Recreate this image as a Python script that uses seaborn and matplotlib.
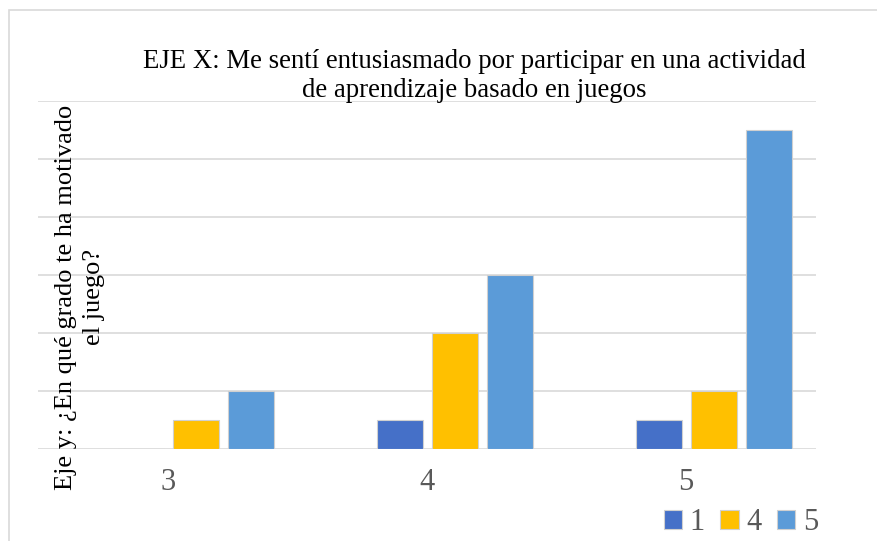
import pandas as pd
import matplotlib.pyplot as plt
import seaborn as sns
from matplotlib.patches import Rectangle

# datos
categorias = ["3", "4", "5"]
serie_1 = [0, 1, 1]
serie_4 = [1, 4, 2]
serie_5 = [2, 6, 11]
series = ["1", "4", "5"]
colores = ["#4570c8", "#ffc000", "#5b9bd8"]

df = pd.DataFrame({
    "categoria": categorias * 3,
    "serie": ["1"] * 3 + ["4"] * 3 + ["5"] * 3,
    "valor": serie_1 + serie_4 + serie_5,
})

sns.set_style("white")
plt.rcParams["font.family"] = ["Liberation Serif", "DejaVu Serif"]

fig = plt.figure(figsize=(8.78, 5.41), dpi=100)
ax = fig.add_axes([38 / 878, 1 - 449 / 541, (816 - 38) / 878, (449 - 101) / 541])

sns.barplot(data=df, x="categoria", y="valor", hue="serie", order=categorias,
            hue_order=series, palette=colores, saturation=1, width=0.64, gap=0.17,
            linewidth=0.8, edgecolor="#d0d0d0", ax=ax, zorder=3)

ax.set_ylim(0, 12)
ax.set_yticks(range(0, 13, 2))
ax.set_yticklabels([])
ax.tick_params(axis="y", length=0)
ax.yaxis.grid(True, color="#d9d9d9", linewidth=1.2)
ax.set_axisbelow(True)
ax.set_xlim(-0.61, 2.394)
ax.set_xticks([-0.108, 0.892, 1.892])
ax.set_xticklabels(categorias, fontsize=22, color="#595959")
ax.tick_params(axis="x", length=0, pad=14)
ax.set_xlabel("")
ax.set_ylabel("")
sns.despine(ax=ax, left=True, bottom=True, top=True, right=True)

fig.text(474 / 878, 1 - 76 / 541,
         "EJE X: Me sentí entusiasmado por participar en una actividad\nde aprendizaje basado en juegos",
         ha="center", va="center", fontsize=19.3, linespacing=1.17, color="black")
fig.text(80 / 878, 1 - 297 / 541,
         "Eje y: ¿En qué grado te ha motivado\nel juego?",
         ha="center", va="center", rotation=90, fontsize=19, linespacing=1.3, color="black")

handles, labels = ax.get_legend_handles_labels()
ax.legend(handles, labels, loc="center", bbox_to_anchor=(741 / 878, 1 - 523 / 541),
          bbox_transform=fig.transFigure, ncol=3, frameon=False, fontsize=22,
          labelcolor="#595959", handlelength=0.6, handleheight=0.6,
          handletextpad=0.25, columnspacing=0.5, borderpad=0)

fig.patches.append(Rectangle((9 / 878, -0.1), 1.2, 1.1 - 10 / 541,
                             transform=fig.transFigure, fill=False,
                             edgecolor="#d9d9d9", linewidth=1.2))

fig.savefig("out.png", dpi=100)
